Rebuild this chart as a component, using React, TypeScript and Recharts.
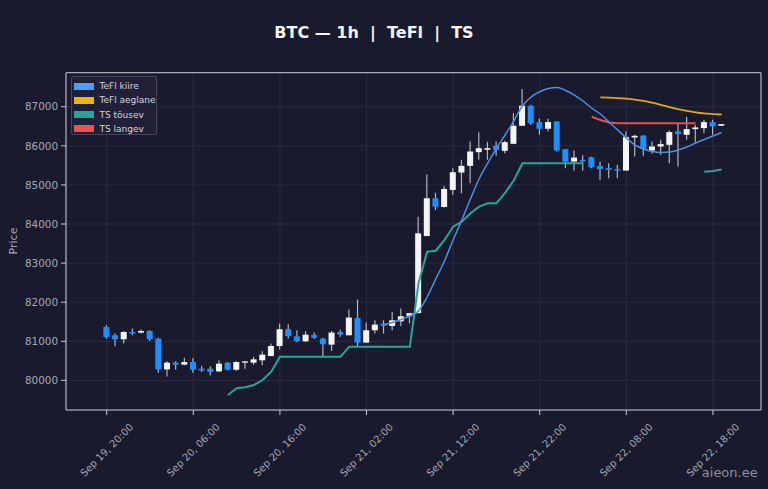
import React from 'react';
import {
  ComposedChart,
  Bar,
  Line,
  XAxis,
  YAxis,
  CartesianGrid,
  ReferenceArea,
} from 'recharts';

// ---- data (hourly candles, index 0 = Sep 19, 20:00) ----
const opens = [
  81368, 81154, 81051, 81238, 81222, 81264, 81069, 80282, 80454, 80403,
  80470, 80300, 80300, 80231, 80454, 80274, 80454, 80454, 80513, 80623,
  80879, 81308, 81128, 81000, 81162, 81069, 80915, 81238, 81154, 81597,
  80967, 81282, 81454, 81392, 81513, 81640, 81720, 83692, 84659, 84436,
  84872, 85316, 85487, 85838, 85900, 86000, 85871, 86051, 86513, 87026,
  86607, 86436, 86623, 85915, 85597, 85640, 85708, 85487, 85428, 85402,
  85367, 86213, 86264, 85879, 85982, 86025, 86367, 86282, 86428, 86453,
  86607, 86513,
];
const highs = [
  81410, 81197, 81260, 81325, 81300, 81282, 81094, 80487, 80487, 80582,
  80572, 80367, 80359, 80513, 80470, 80487, 80487, 80597, 80744, 80941,
  81454, 81436, 81282, 81260, 81222, 81090, 81264, 81300, 81813, 82069,
  81479, 81538, 81538, 81751, 81838, 81725, 84187, 85266, 84800, 84970,
  85428, 85641, 86110, 86350, 86103, 86110, 86128, 86838, 87454, 87050,
  86692, 86692, 86623, 85915, 85880, 85760, 85720, 85597, 85556, 85513,
  86367, 86282, 86264, 86110, 86154, 86392, 86582, 86736, 86538, 86667,
  86667, 86555,
];
const lows = [
  81069, 80872, 80941, 81154, 81197, 81008, 80197, 80103, 80274, 80385,
  80187, 80212, 80128, 80213, 80256, 80238, 80300, 80403, 80385, 80623,
  80787, 81069, 80982, 80985, 81060, 80615, 80751, 81111, 81154, 80854,
  80967, 81197, 81197, 81282, 81392, 81460, 81720, 83692, 84350, 84420,
  84743, 84787, 85043, 85641, 85641, 85743, 85812, 86051, 86513, 86530,
  86282, 86368, 85854, 85428, 85367, 85367, 85428, 85128, 85170, 85170,
  85367, 85726, 85743, 85794, 85769, 85556, 85470, 86154, 86085, 86323,
  86282, 86513,
];
const closes = [
  81111, 81051, 81238, 81197, 81264, 81051, 80282, 80454, 80403, 80470,
  80274, 80256, 80213, 80428, 80274, 80470, 80487, 80538, 80659, 80879,
  81308, 81136, 81008, 81170, 81094, 80923, 81223, 81172, 81608, 80967,
  81282, 81428, 81402, 81538, 81641, 81720, 83761, 84659, 84443, 84897,
  85325, 85487, 85854, 85940, 85940, 85897, 86094, 86513, 87026, 86582,
  86436, 86607, 85879, 85597, 85700, 85600, 85452, 85402, 85385, 85367,
  86223, 86256, 85923, 85982, 86043, 86350, 86300, 86428, 86470, 86607,
  86495, 86555,
];

// TeFl kiire (fast) – starts at candle 32
const fastStart = 32;
const fastValues = [
  81417, 81481, 81558, 81647, 81775, 82133, 82593, 83054, 83591, 84102,
  84639, 85151, 85560, 85936, 86276, 86634, 87018, 87248, 87384, 87465,
  87491, 87414, 87299, 87146, 86967, 86813, 86609, 86404, 86200, 86020,
  85918, 85854, 85829, 85841, 85893, 85969, 86072, 86161, 86251, 86340,
];
// TeFl aeglane (slow) – starts at candle 57
const slowStart = 57;
const slowValues = [
  87240, 87230, 87222, 87207, 87184, 87151, 87102, 87049, 86992, 86941,
  86895, 86857, 86829, 86813, 86801,
];
// TS tõusev – two segments
const tsUpStartA = 14;
const tsUpValuesA = [
  79627, 79798, 79823, 79882, 80010, 80222,
  80606, 80606, 80606, 80606, 80606, 80606, 80606, 80606,
  80862, 80862, 80862, 80862, 80862, 80862, 80862, 80862,
  82483, 83292, 83317, 83591, 83931, 84059, 84274, 84443, 84529, 84529,
  84793, 85114,
  85552, 85552, 85552, 85552, 85552, 85552, 85552, 85552,
];
const tsUpStartB = 69;
const tsUpValuesB = [85338, 85356, 85395];
// TS langev – starts at candle 56
const tsDownStart = 56;
const tsDownValues = [
  86744, 86660, 86596, 86575, 86575, 86575, 86575, 86575, 86575, 86575,
  86575, 86575, 86575,
];

const tickIdx = [0, 10, 20, 30, 40, 50, 60, 70];
const tickLabels = [
  'Sep 19, 20:00',
  'Sep 20, 06:00',
  'Sep 20, 16:00',
  'Sep 21, 02:00',
  'Sep 21, 12:00',
  'Sep 21, 22:00',
  'Sep 22, 08:00',
  'Sep 22, 18:00',
];
const priceTicks = [80000, 81000, 82000, 83000, 84000, 85000, 86000, 87000];

const legendItems = [
  { name: 'TeFl kiire', color: '#4a9eff' },
  { name: 'TeFl aeglane', color: '#f2b20c' },
  { name: 'TS tõusev', color: '#26a69a' },
  { name: 'TS langev', color: '#ef5350' },
];

const pick = (arr: number[], start: number, i: number) =>
  i >= start && i < start + arr.length ? arr[i - start] : null;

const data = opens.map((o, i) => ({
  i,
  o,
  h: highs[i],
  l: lows[i],
  c: closes[i],
  range: [lows[i], highs[i]],
  fast: pick(fastValues, fastStart, i),
  slow: pick(slowValues, slowStart, i),
  tsUp: pick(tsUpValuesA, tsUpStartA, i) ?? pick(tsUpValuesB, tsUpStartB, i),
  tsDown: pick(tsDownValues, tsDownStart, i),
}));

const BG = '#1a1a2e';
const TXT = '#a6a6b4';
const FONT = '"DejaVu Sans", Verdana, sans-serif';
const X_DOMAIN: [number, number] = [-4.7, 75.55];
const Y_DOMAIN: [number, number] = [79243, 87870];

const Candle = (props: any) => {
  const { x, y, width, height, payload } = props;
  if (!payload || x == null || y == null) return null;
  const { o, h, l, c } = payload;
  const top = Math.min(y, y + height);
  const hh = Math.abs(height);
  const k = h > l ? hh / (h - l) : 0;
  const cx = x + width / 2;
  const up = c >= o;
  const bTop = top + (h - Math.max(o, c)) * k;
  const bH = Math.max(1.3, Math.abs(o - c) * k);
  return (
    <g>
      <line x1={cx} x2={cx} y1={top} y2={top + hh} stroke="#b4b4bc" strokeWidth={1.2} />
      <rect x={x} y={bTop} width={width} height={bH} fill={up ? '#f4f4f4' : '#1e8fff'} />
    </g>
  );
};

const XTick = (props: any) => {
  const { x, payload } = props;
  const idx = tickIdx.indexOf(payload.value);
  const label = idx >= 0 ? tickLabels[idx] : '';
  const cy = 450;
  return (
    <text
      x={x}
      y={cy}
      textAnchor="middle"
      dominantBaseline="central"
      transform={`rotate(-45 ${x} ${cy})`}
      fill={TXT}
      fontSize={10}
      fontFamily={FONT}
    >
      {label}
    </text>
  );
};

export default function App() {
  return (
    <div
      style={{
        position: 'absolute',
        left: 0,
        top: 0,
        width: 768,
        height: 489,
        background: BG,
        fontFamily: FONT,
        overflow: 'hidden',
      }}
    >
      <ComposedChart
        width={768}
        height={489}
        data={data}
        margin={{ top: 72.7, right: 7, bottom: 19, left: 8 }}
      >
        <CartesianGrid stroke="#2a2a43" strokeWidth={1} />
        <XAxis
          dataKey="i"
          type="number"
          domain={X_DOMAIN}
          allowDataOverflow
          ticks={tickIdx}
          interval={0}
          tick={<XTick />}
          tickLine={{ stroke: '#c8c8d0' }}
          tickSize={5}
          axisLine={false}
          height={60}
        />
        <YAxis
          type="number"
          domain={Y_DOMAIN}
          allowDataOverflow
          ticks={priceTicks}
          interval={0}
          width={58}
          tickSize={5}
          tickMargin={3}
          tickLine={{ stroke: '#c8c8d0' }}
          axisLine={false}
          tick={{ fill: TXT, fontSize: 10.4, fontFamily: FONT }}
        />
        <Bar dataKey="range" barSize={6} shape={<Candle />} isAnimationActive={false} />
        <Line
          dataKey="tsUp"
          type="linear"
          stroke="#26a69a"
          strokeWidth={2}
          dot={false}
          activeDot={false}
          isAnimationActive={false}
        />
        <Line
          dataKey="tsDown"
          type="linear"
          stroke="#e05252"
          strokeWidth={2}
          dot={false}
          activeDot={false}
          isAnimationActive={false}
        />
        <Line
          dataKey="slow"
          type="monotone"
          stroke="#e0a814"
          strokeWidth={1.8}
          dot={false}
          activeDot={false}
          isAnimationActive={false}
        />
        <Line
          dataKey="fast"
          type="monotone"
          stroke="#4a90e2"
          strokeWidth={1.5}
          dot={false}
          activeDot={false}
          isAnimationActive={false}
        />
        <ReferenceArea
          x1={X_DOMAIN[0]}
          x2={X_DOMAIN[1]}
          y1={Y_DOMAIN[0]}
          y2={Y_DOMAIN[1]}
          fill="none"
          fillOpacity={0}
          stroke="#c8c8d0"
          strokeWidth={1}
          ifOverflow="visible"
        />
      </ComposedChart>

      {/* title */}
      <div
        style={{
          position: 'absolute',
          left: 0,
          top: 24,
          width: 748,
          textAlign: 'center',
          fontSize: 16,
          lineHeight: '18px',
          fontWeight: 'bold',
          color: '#f4f4f4',
          whiteSpace: 'pre',
        }}
      >
        {'BTC — 1h  |  TeFl  |  TS'}
      </div>

      {/* y axis label */}
      <div
        style={{
          position: 'absolute',
          left: 13,
          top: 241,
          transform: 'translate(-50%, -50%) rotate(-90deg)',
          fontSize: 11,
          lineHeight: '13px',
          color: TXT,
          whiteSpace: 'nowrap',
        }}
      >
        Price
      </div>

      {/* legend */}
      <div
        style={{
          position: 'absolute',
          left: 71,
          top: 76,
          width: 86,
          height: 59,
          background: '#202036',
          border: '1px solid #45455a',
          borderRadius: 2,
          boxSizing: 'border-box',
        }}
      >
        {legendItems.map((it, k) => (
          <div
            key={it.name}
            style={{
              position: 'absolute',
              left: 1.5,
              top: 5.3 + k * 14.1,
              height: 8,
              display: 'flex',
              alignItems: 'center',
            }}
          >
            <div style={{ width: 20, height: 7, background: it.color }} />
            <div
              style={{
                marginLeft: 6,
                fontSize: 9,
                lineHeight: '10px',
                color: '#d4d4dc',
                whiteSpace: 'nowrap',
              }}
            >
              {it.name}
            </div>
          </div>
        ))}
      </div>

      {/* watermark */}
      <div
        style={{
          position: 'absolute',
          right: 10.3,
          top: 464.5,
          fontSize: 13,
          lineHeight: '16px',
          color: '#8e8e9c',
          whiteSpace: 'nowrap',
        }}
      >
        aieon.ee
      </div>
    </div>
  );
}
